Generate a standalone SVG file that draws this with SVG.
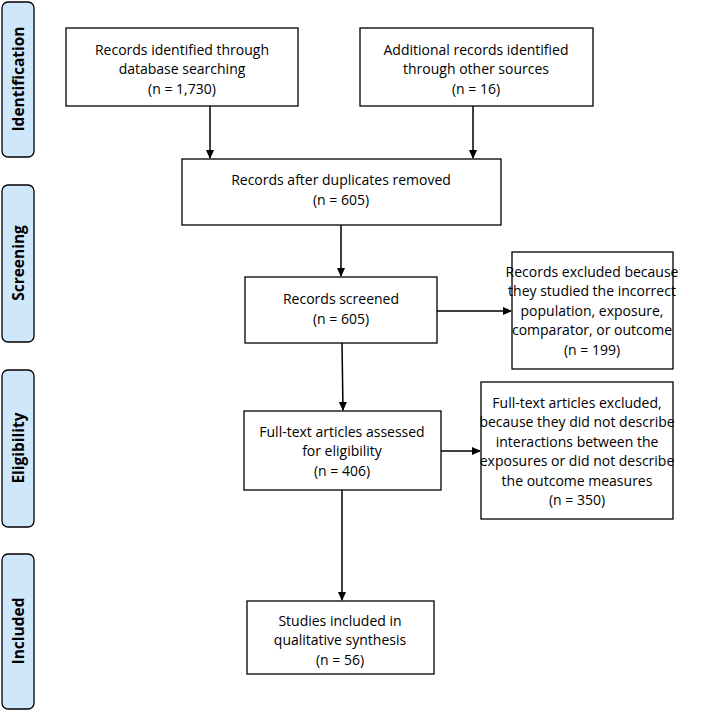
<svg xmlns="http://www.w3.org/2000/svg" width="710" height="711" viewBox="0 0 710 711">
<style>
.box{fill:#fff;stroke:#000;stroke-width:1.3}
.side{fill:#cfe7fa;stroke:#000;stroke-width:1.3}
text{font-family:"Open Sans","Liberation Sans",sans-serif;font-size:14px;text-anchor:middle;fill:#000}
.lab{font-weight:bold;font-size:15.5px}
.c line{stroke:#000;stroke-width:1.5}
</style>
<defs><marker id="a" markerWidth="10" markerHeight="10" refX="8" refY="4" orient="auto" markerUnits="userSpaceOnUse"><path d="M0,0L9,4L0,8z" fill="#000"/></marker></defs>
<g id="s1"><rect class="side" x="2" y="2" width="32" height="155" rx="6"/><text class="lab" transform="translate(24,79) rotate(-90)">Identification</text></g>
<g id="s2"><rect class="side" x="2" y="185" width="32" height="157" rx="6"/><text class="lab" transform="translate(24,263) rotate(-90)">Screening</text></g>
<g id="s3"><rect class="side" x="2" y="370" width="32" height="157" rx="6"/><text class="lab" transform="translate(24,448) rotate(-90)">Eligibility</text></g>
<g id="s4"><rect class="side" x="2" y="554" width="32" height="155" rx="6"/><text class="lab" transform="translate(24,631) rotate(-90)">Included</text></g>
<g id="b1"><rect class="box" x="66" y="28" width="232" height="78"/><text x="182" y="55">Records identified through</text><text x="182" y="74">database searching</text><text x="182" y="94">(n = 1,730)</text></g>
<g id="b2"><rect class="box" x="360" y="28" width="233" height="78"/><text x="476" y="55">Additional records identified</text><text x="476" y="74">through other sources</text><text x="476" y="94">(n = 16)</text></g>
<g id="b3"><rect class="box" x="182" y="159" width="319" height="66"/><text x="341" y="185">Records after duplicates removed</text><text x="341" y="205">(n = 605)</text></g>
<g id="b4"><rect class="box" x="245" y="277" width="192" height="66"/><text x="341" y="304">Records screened</text><text x="341" y="324">(n = 605)</text></g>
<g id="r1"><rect class="box" x="512" y="252" width="161" height="117"/><text x="592" y="277">Records excluded because</text><text x="592" y="296">they studied the incorrect</text><text x="592" y="316">population, exposure,</text><text x="592" y="335">comparator, or outcome</text><text x="592" y="355">(n = 199)</text></g>
<g id="b5"><rect class="box" x="244" y="411" width="197" height="79"/><text x="342" y="437">Full-text articles assessed</text><text x="342" y="456">for eligibility</text><text x="342" y="476">(n = 406)</text></g>
<g id="r2"><rect class="box" x="481" y="382" width="192" height="137"/><text x="577" y="408">Full-text articles excluded,</text><text x="577" y="427">because they did not describe</text><text x="577" y="447">interactions between the</text><text x="577" y="466">exposures or did not describe</text><text x="577" y="486">the outcome measures</text><text x="577" y="505">(n = 350)</text></g>
<g id="b6"><rect class="box" x="247" y="601" width="187" height="73"/><text x="340" y="626">Studies included in</text><text x="340" y="645">qualitative synthesis</text><text x="340" y="665">(n = 56)</text></g>
<g class="c" id="connectors">
<line x1="210" y1="106" x2="210" y2="158" marker-end="url(#a)"/>
<line x1="473" y1="106" x2="473" y2="158" marker-end="url(#a)"/>
<line x1="341" y1="225" x2="341" y2="276" marker-end="url(#a)"/>
<line x1="437" y1="311" x2="511" y2="311" marker-end="url(#a)"/>
<line x1="342" y1="343" x2="343" y2="410" marker-end="url(#a)"/>
<line x1="441" y1="451" x2="480" y2="451" marker-end="url(#a)"/>
<line x1="342" y1="490" x2="342" y2="600" marker-end="url(#a)"/>
</g>
</svg>
